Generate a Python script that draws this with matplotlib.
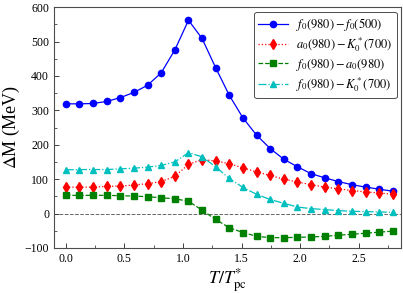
import matplotlib
matplotlib.use("Agg")
import matplotlib.pyplot as plt
from matplotlib.ticker import MultipleLocator

plt.rcParams['font.family'] = ['Liberation Serif', 'DejaVu Serif']
plt.rcParams['mathtext.fontset'] = 'stix'

T = [0.000, 0.116, 0.233, 0.349, 0.465, 0.581, 0.698, 0.814, 0.930, 1.047,
     1.163, 1.279, 1.395, 1.512, 1.628, 1.744, 1.860, 1.977, 2.093, 2.209,
     2.326, 2.442, 2.558, 2.674, 2.791]

f0_f0 = [319, 319, 320, 326, 337, 352, 373, 409, 475, 562,
         509, 424, 344, 278, 228, 189, 158, 136, 116, 104,
         93, 84, 77, 71, 65]
a0_K0 = [77, 77, 77, 79, 80, 83, 87, 93, 108, 143,
         157, 153, 145, 133, 121, 111, 100, 92, 84, 77,
         72, 67, 63, 60, 56]
f0_a0 = [53, 53, 53, 53, 52, 51, 49, 46, 43, 36,
         10, -17, -41, -55, -66, -70, -70, -69, -68, -66,
         -63, -60, -57, -54, -51]
f0_K0 = [127, 128, 128, 128, 130, 132, 135, 140, 150, 177,
         165, 136, 102, 76, 56, 41, 30, 19, 14.5, 11.6,
         8.7, 6.7, 5.8, 4.7, 3.8]

labels = [r'$f_0(980)-f_0(500)$', r'$a_0(980)-K_0^*(700)$',
          r'$f_0(980)-a_0(980)$', r'$f_0(980)-K_0^*(700)$']

fig = plt.figure(figsize=(4.03, 2.93), dpi=100)
ax = fig.add_axes([0.134, 0.1536, 0.861, 0.822])

ax.axhline(0, color='0.4', ls='--', lw=0.7, zorder=1)
ax.plot(T, f0_f0, color='blue', ls='-', lw=0.9, marker='o', ms=4.5, label=labels[0])
ax.plot(T, a0_K0, color='red', ls=':', lw=0.9, marker='d', ms=5, label=labels[1])
ax.plot(T, f0_a0, color='green', ls='--', lw=0.9, marker='s', ms=4, label=labels[2])
ax.plot(T, f0_K0, color='#00bfbf', ls='-.', lw=0.9, marker='^', ms=4.5, label=labels[3])

ax.set_xlim(-0.1, 2.86)
ax.set_ylim(-100, 600)
ax.xaxis.set_major_locator(MultipleLocator(0.5))
ax.xaxis.set_minor_locator(MultipleLocator(0.25))
ax.yaxis.set_major_locator(MultipleLocator(100))
ax.yaxis.set_minor_locator(MultipleLocator(50))
ax.xaxis.set_major_formatter(matplotlib.ticker.FormatStrFormatter('%.1f'))
ax.tick_params(which='both', direction='in', top=False, right=False,
               labelsize=8.5, color='0.25')
ax.tick_params(which='major', length=3.5, width=0.7)
ax.tick_params(which='minor', length=2, width=0.6)
for s in ax.spines.values():
    s.set_color('0.3')
    s.set_linewidth(0.8)

ax.set_xlabel(r'$T/T_{\rm pc}^{*}$', fontsize=13, labelpad=1)
ax.set_ylabel(r'$\Delta$M (MeV)', fontsize=13, labelpad=2)

leg = ax.legend(loc='upper right', fontsize=9, frameon=True, fancybox=True,
                edgecolor='0.3', framealpha=1, handlelength=2.4,
                borderaxespad=0.35, labelspacing=0.2, borderpad=0.35,
                handletextpad=0.6)
leg.get_frame().set_linewidth(0.7)

fig.savefig('out.png', dpi=100)
